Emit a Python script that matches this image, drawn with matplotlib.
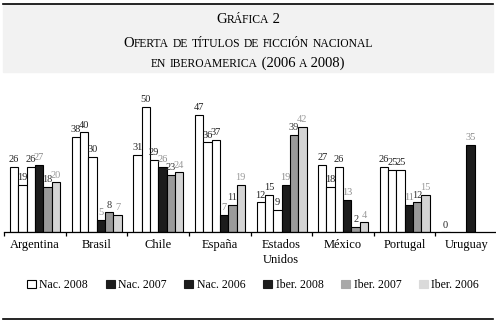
import matplotlib
matplotlib.use("Agg")
import matplotlib.pyplot as plt
import numpy as np
from matplotlib.patches import Patch, Rectangle
from matplotlib.lines import Line2D

plt.rcParams["font.family"] = ["Liberation Serif", "DejaVu Serif"]

countries = ["Argentina", "Brasil", "Chile", "España", "Estados\nUnidos",
             "México", "Portugal", "Uruguay"]
series = ["Nac. 2008", "Nac. 2007", "Nac. 2006",
          "Iber. 2008", "Iber. 2007", "Iber. 2006"]
nan = np.nan
nac_2008 = [26, 38, 31, 47, 12, 27, 26, 0]
nac_2007 = [19, 40, 50, 36, 15, 18, 25, nan]
nac_2006 = [26, 30, 29, 37, 9, 26, 25, nan]
iber_2008 = [27, 5, 26, 7, 19, 13, 11, 35]
iber_2007 = [18, 8, 23, 11, 39, 2, 12, nan]
iber_2006 = [20, 7, 24, 19, 42, 4, 15, nan]
values = [nac_2008, nac_2007, nac_2006, iber_2008, iber_2007, iber_2006]

bar_colors = ["white", "white", "white", "#1c1c1c", "#9a9a9a", "#d4d4d4"]
legend_colors = ["white", "#1c1c1c", "#1c1c1c", "#1c1c1c", "#a8a8a8", "#dadada"]
label_colors = ["#222222", "#222222", "#222222", "#8c8c8c", "#333333", "#9a9a9a"]

W, H = 496, 322
fig = plt.figure(figsize=(W / 100, H / 100), dpi=100)

# header band and rules
fig.patches.append(Rectangle((3 / W, 1 - 72 / H), 490 / W, 68 / H,
                             transform=fig.transFigure, color="#f2f2f2", zorder=0))
fig.lines.append(Line2D([3 / W, 493 / W], [1 - 4 / H] * 2, transform=fig.transFigure,
                        color="black", lw=1.2))
fig.lines.append(Line2D([3 / W, 493 / W], [1 - 319 / H] * 2, transform=fig.transFigure,
                        color="black", lw=1.2))


def small_caps(y_px, text, big=10.5, small=8.4):
    """Draw centred small-caps text built from runs of two font sizes."""
    runs = []
    for ch in text:
        size = small if ch.islower() else big
        if runs and runs[-1][1] == size:
            runs[-1][0] += ch.upper()
        else:
            runs.append([ch.upper(), size])
    renderer = fig.canvas.get_renderer()
    objs = []
    for s, size in runs:
        t = fig.text(0, 1 - y_px / H, s, fontsize=size, va="baseline", ha="left")
        objs.append(t)
    widths = [t.get_window_extent(renderer).width for t in objs]
    x = (W - sum(widths)) / 2
    for t, w in zip(objs, widths):
        t.set_x(x / W)
        x += w


small_caps(23, "Gráfica 2")
small_caps(47, "Oferta de títulos de ficción nacional")
small_caps(67, "en iberoamerica (2006 a 2008)")

# chart
ax = fig.add_axes([4 / W, (H - 232) / H, 493 / W, 140 / H])
ax.set_xlim(0, 8)
ax.set_ylim(0, 56)
bar_w = 8.33 / 61.6
offset = 6 / 61.6
x = np.arange(len(countries))
for i, (vals, col) in enumerate(zip(values, bar_colors)):
    pos = x + offset + bar_w * (i + 0.5)
    v = np.array(vals, dtype=float)
    ax.bar(pos, v, width=bar_w, color=col, edgecolor="black", linewidth=0.8)
    for p, val in zip(pos, v):
        if not np.isnan(val):
            ax.text(p, val + 1.0, f"{val:.0f}", ha="center", va="bottom",
                    fontsize=7.5, color=label_colors[i])

for side in ["left", "right", "top"]:
    ax.spines[side].set_visible(False)
ax.spines["bottom"].set_linewidth(0.9)
ax.set_yticks([])
ax.set_xticks(np.arange(0, 9))
ax.set_xticklabels([])
ax.tick_params(axis="x", which="major", direction="out", length=3, width=0.9)
ax.set_xticks(x + 0.5, minor=True)
ax.set_xticklabels(countries, minor=True, fontsize=9, linespacing=1.3)
ax.tick_params(axis="x", which="minor", length=0, pad=5)

handles = [Patch(facecolor=c, edgecolor="black" if c == "white" else c, linewidth=0.8)
           for c in legend_colors]
fig.legend(handles, series, loc="center", bbox_to_anchor=(0.51, 1 - 285 / H),
           ncol=6, frameon=False, fontsize=8.5, handlelength=0.75,
           handleheight=0.75, handletextpad=0.3, columnspacing=1.5)

fig.savefig("out.png", dpi=100)
